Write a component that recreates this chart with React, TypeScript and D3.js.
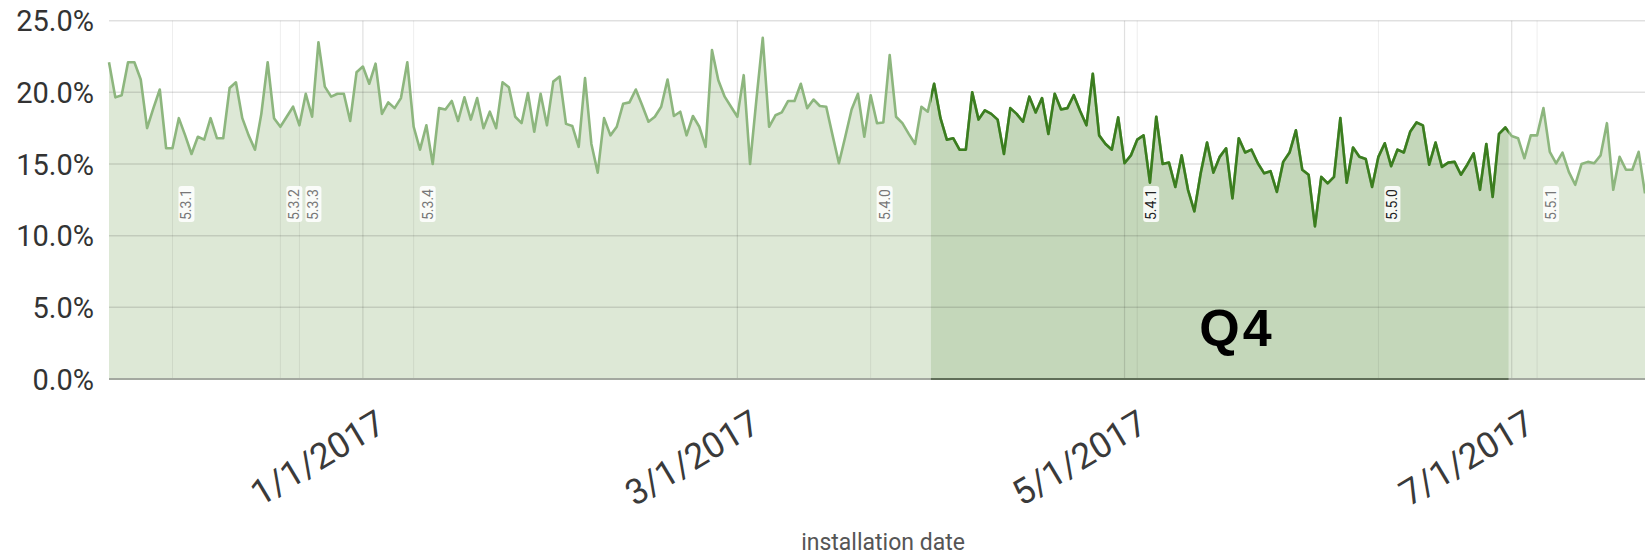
import * as d3 from "d3";

// daily share, starting 2016-11-22
const startDate = Date.UTC(2016, 10, 22);
const rates = [
  22.1, 19.65, 19.8, 22.1, 22.1, 20.9, 17.5, 18.9, 20.2, 16.1,
  16.1, 18.2, 17.0, 15.7, 16.9, 16.7, 18.2, 16.8, 16.8, 20.3,
  20.7, 18.2, 17.0, 16.0, 18.5, 22.1, 18.2, 17.6, 18.3, 19.0,
  17.7, 19.9, 18.3, 23.5, 20.4, 19.7, 19.9, 19.9, 18.0, 21.4,
  21.8, 20.6, 22.0, 18.5, 19.3, 18.9, 19.6, 22.1, 17.6, 16.0,
  17.7, 15.0, 18.9, 18.8, 19.4, 18.0, 19.65, 18.1, 19.6, 17.5,
  18.65, 17.5, 20.7, 20.35, 18.3, 17.85, 19.95, 17.25, 19.9, 17.7,
  20.75, 21.1, 17.8, 17.65, 16.2, 21.0, 16.4, 14.4, 18.2, 17.0,
  17.6, 19.2, 19.3, 20.2, 19.1, 17.95, 18.3, 19.0, 20.9, 18.35,
  18.65, 17.0, 18.35, 17.6, 16.2, 22.95, 20.85, 19.7, 19.0, 18.3,
  21.2, 15.0, 19.5, 23.8, 17.6, 18.4, 18.6, 19.4, 19.4, 20.6,
  18.9, 19.5, 19.05, 19.0, 17.0, 15.05, 16.9, 18.8, 19.9, 16.9,
  19.8, 17.85, 17.9, 22.6, 18.3, 17.85, 17.1, 16.4, 19.0, 18.65,
  20.6, 18.2, 16.7, 16.8, 16.0, 16.0, 20.0, 18.1, 18.75, 18.5,
  18.1, 15.7, 18.9, 18.5, 17.95, 19.7, 18.6, 19.6, 17.1, 19.9,
  18.8, 18.9, 19.8, 18.7, 17.7, 21.3, 17.0, 16.4, 16.0, 18.25,
  15.05, 15.6, 16.7, 17.0, 13.7, 18.3, 15.0, 15.1, 13.4, 15.6,
  13.2, 11.7, 14.35, 16.5, 14.4, 15.5, 16.1, 12.6, 16.8, 15.8,
  16.0, 15.05, 14.35, 14.5, 13.05, 15.15, 15.8, 17.35, 14.6, 14.25,
  10.65, 14.1, 13.65, 14.1, 18.2, 13.7, 16.15, 15.5, 15.35, 13.4,
  15.5, 16.45, 14.85, 16.0, 15.8, 17.25, 17.9, 17.7, 14.95, 16.5,
  14.8, 15.1, 15.15, 14.25, 14.95, 15.75, 13.2, 16.4, 12.7, 17.1,
  17.55, 16.95, 16.8, 15.4, 17.0, 17.0, 18.9, 15.85, 15.05, 15.8,
  14.45, 13.55, 15.0, 15.15, 15.05, 15.6, 17.85, 13.2, 15.5, 14.6,
  14.6, 15.85, 12.95,
];

const releaseNames = ["5.3.1", "5.3.2", "5.3.3", "5.3.4", "5.4.0", "5.4.1", "5.5.0", "5.5.1"];
const releaseDates = [
  Date.UTC(2016, 11, 2),
  Date.UTC(2016, 11, 19),
  Date.UTC(2016, 11, 22),
  Date.UTC(2017, 0, 9),
  Date.UTC(2017, 2, 22),
  Date.UTC(2017, 4, 3),
  Date.UTC(2017, 5, 10),
  Date.UTC(2017, 6, 5),
];

const highlightLabel = "Q4";
const highlightRange = [Date.UTC(2017, 2, 31, 12), Date.UTC(2017, 5, 30, 12)];

const yTicks = [0, 5, 10, 15, 20, 25];

const width = 1645;
const height = 558;
const margin = { top: 20.7, right: 0, bottom: 179, left: 109 };

export default function App() {
  const points = rates.map((v, i) => ({
    date: new Date(startDate + i * 864e5),
    value: v,
  }));

  const x = d3
    .scaleUtc()
    .domain([points[0].date, points[points.length - 1].date])
    .range([margin.left, width - margin.right]);
  const y = d3
    .scaleLinear()
    .domain([0, 25])
    .range([height - margin.bottom, margin.top]);

  const area = d3
    .area<{ date: Date; value: number }>()
    .x((d) => x(d.date))
    .y0(y(0))
    .y1((d) => y(d.value));
  const line = d3
    .line<{ date: Date; value: number }>()
    .x((d) => x(d.date))
    .y((d) => y(d.value));

  const dateTicks = x.ticks(d3.utcMonth.every(2)!);
  const fmtDate = d3.utcFormat("%-m/%-d/%Y");
  const fmtPct = (v: number) => d3.format(".1f")(v) + "%";

  const hx0 = x(new Date(highlightRange[0]));
  const hx1 = x(new Date(highlightRange[1]));

  const areaPath = area(points) || "";
  const linePath = line(points) || "";

  return (
    <svg
      width={width}
      height={height}
      style={{ position: "absolute", left: 0, top: 0, background: "#fff" }}
      fontFamily="Roboto, sans-serif"
    >
      <defs>
        <clipPath id="hl">
          <rect x={hx0} y={0} width={hx1 - hx0} height={height} />
        </clipPath>
      </defs>

      {/* areas */}
      <path d={areaPath} fill="#dde8d6" />
      <path d={areaPath} fill="#c4d7ba" clipPath="url(#hl)" />

      {/* grid */}
      {yTicks.slice(1).map((t) => (
        <line
          key={t}
          x1={margin.left}
          x2={width}
          y1={y(t)}
          y2={y(t)}
          stroke="#000"
          strokeOpacity={0.12}
          strokeWidth={1.5}
        />
      ))}
      {dateTicks.map((t) => (
        <line
          key={+t}
          x1={x(t)}
          x2={x(t)}
          y1={y(25)}
          y2={y(0)}
          stroke="#000"
          strokeOpacity={0.12}
          strokeWidth={1.2}
        />
      ))}
      {releaseDates.map((t, i) => (
        <line
          key={releaseNames[i]}
          x1={x(new Date(t))}
          x2={x(new Date(t))}
          y1={y(25)}
          y2={y(0)}
          stroke="#000"
          strokeOpacity={0.07}
          strokeWidth={1}
        />
      ))}

      {/* baseline */}
      <line x1={margin.left} x2={width} y1={y(0)} y2={y(0)} stroke="#a3a8a0" strokeWidth={2} />
      <line
        x1={margin.left}
        x2={width}
        y1={y(0)}
        y2={y(0)}
        stroke="#5f6e58"
        strokeWidth={2}
        clipPath="url(#hl)"
      />

      {/* series */}
      <path d={linePath} fill="none" stroke="#8db67e" strokeWidth={2.6} strokeLinejoin="round" />
      <path
        d={linePath}
        fill="none"
        stroke="#3b7d1f"
        strokeWidth={2.6}
        strokeLinejoin="round"
        clipPath="url(#hl)"
      />

      {/* release labels */}
      {releaseDates.map((t, i) => {
        const rx = x(new Date(t)) + 14;
        const inHl = t >= highlightRange[0] && t <= highlightRange[1];
        return (
          <g key={releaseNames[i]} transform={`translate(${rx},220) rotate(-90)`}>
            <rect x={-2} y={-8} width={36} height={16} rx={3} fill="#fff" fillOpacity={0.85} />
            <text
              x={0}
              y={0}
              dominantBaseline="central"
              fontSize={14}
              fill={inHl ? "#222" : "#777"}
            >
              {releaseNames[i]}
            </text>
          </g>
        );
      })}

      {/* highlight label */}
      <text
        x={1237}
        y={346}
        textAnchor="middle"
        fontFamily="'Liberation Sans', Arial, sans-serif"
        fontWeight="bold"
        fontSize={52}
        letterSpacing={3}
        fill="#000"
      >
        {highlightLabel}
      </text>

      {/* y axis */}
      {yTicks.map((t) => (
        <text key={t} x={94} y={y(t) + 10.5} textAnchor="end" fontSize={29} fill="#333">
          {fmtPct(t)}
        </text>
      ))}

      {/* x axis */}
      {dateTicks.map((t) => (
        <text
          key={+t}
          transform={`translate(${x(t) + 25},430) rotate(-31)`}
          textAnchor="end"
          fontSize={35.5}
          fill="#3a3a3a"
        >
          {fmtDate(t)}
        </text>
      ))}
      <text x={883} y={550} textAnchor="middle" fontSize={23} fill="#555">
        installation date
      </text>
    </svg>
  );
}
